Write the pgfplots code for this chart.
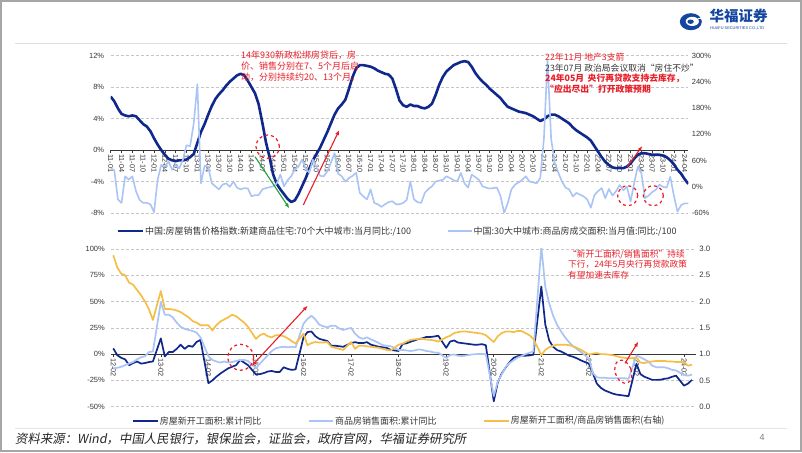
\documentclass[border=0pt]{standalone}
\usepackage{pgfplots}
\pgfplotsset{compat=1.18}
\usepackage{pgfplotstable}
\usepackage{fontspec}
\setmainfont{Liberation Sans}
\newfontfamily\cjk{Noto Sans CJK SC}
\newfontfamily\cjksl[FakeSlant=0.18]{Noto Sans CJK SC}
\usetikzlibrary{arrows.meta}
\definecolor{dk}{RGB}{16,40,140}
\definecolor{lt}{RGB}{170,196,245}
\definecolor{og}{RGB}{245,190,70}
\definecolor{rd}{RGB}{232,30,40}
\definecolor{gn}{RGB}{30,160,60}
\definecolor{tk}{RGB}{55,55,55}
\definecolor{hf}{RGB}{20,70,160}

\pgfplotstableread{
m v
0 6.8
1 6.2
2 5.3
3 4.6
4 4.4
5 4.3
6 4.4
7 4.3
8 3.8
9 3.3
10 3.0
11 2.4
12 1.5
13 0.7
14 0.0
15 -0.6
16 -1.1
17 -1.3
18 -1.4
19 -1.3
20 -1.3
21 -1.2
22 -0.9
23 -0.5
24 0.9
25 2.3
26 3.3
27 4.5
28 5.6
29 6.5
30 7.1
31 7.6
32 8.2
33 8.7
34 9.1
35 9.5
36 9.7
37 9.5
38 8.8
39 8.0
40 7.2
41 5.8
42 3.5
43 1.0
44 -0.9
45 -3.1
46 -4.3
47 -5.0
48 -5.6
49 -6.2
50 -6.6
51 -6.4
52 -5.6
53 -4.6
54 -3.6
55 -2.4
56 -1.3
57 -0.5
58 0.3
59 1.3
60 2.3
61 3.4
62 4.5
63 5.3
64 5.8
65 6.4
66 7.8
67 9.3
68 10.4
69 10.8
70 10.8
71 10.7
72 10.6
73 10.4
74 10.1
75 9.9
76 9.7
77 9.6
78 9.1
79 7.8
80 6.3
81 5.7
82 5.5
83 5.8
84 5.6
85 5.6
86 5.4
87 5.3
88 5.5
89 5.9
90 7.0
91 8.3
92 9.3
93 10.0
94 10.4
95 10.8
96 11.0
97 11.2
98 11.3
99 11.2
100 10.6
101 9.8
102 9.2
103 8.7
104 8.3
105 7.8
106 7.4
107 7.0
108 6.6
109 6.0
110 5.5
111 5.3
112 5.1
113 4.9
114 4.8
115 4.7
116 4.5
117 4.3
118 4.0
119 3.7
120 3.9
121 4.3
122 4.5
123 4.5
124 4.3
125 4.0
126 3.7
127 3.4
128 2.9
129 2.5
130 2.2
131 1.9
132 1.6
133 1.2
134 0.5
135 -0.2
136 -0.9
137 -1.5
138 -1.9
139 -2.2
140 -2.3
141 -2.3
142 -2.3
143 -2.1
144 -1.7
145 -1.1
146 -0.6
147 -0.4
148 -0.4
149 -0.5
150 -0.6
151 -0.6
152 -0.6
153 -0.7
154 -0.9
155 -1.3
156 -1.8
157 -2.5
158 -3.0
159 -3.7
160 -4.3
}\topdark

\pgfplotstableread{
m v
0 42
1 38
2 -29
3 -37
4 24
5 16
6 24
7 -10
8 -30
9 -37
10 -37
11 -40
12 -58
13 16
14 50
15 46
16 58
17 39
18 50
19 42
20 62
21 95
22 93
23 145
24 235
25 8
26 48
27 46
28 8
29 1
30 -6
31 5
32 8
33 0
34 12
35 -2
36 -6
37 -3
38 -4
39 -22
40 -19
41 -19
42 -6
43 -3
44 -1
45 1
46 8
47 28
48 1
49 15
50 24
51 40
52 46
53 62
54 42
55 32
56 62
57 45
58 25
59 24
60 35
61 55
62 77
63 30
64 24
65 12
66 20
67 25
68 32
69 -14
70 -22
71 -29
72 -6
73 -37
74 -40
75 -46
76 -40
77 -35
78 -33
79 -40
80 -40
81 -37
82 -30
83 12
84 -29
85 -35
86 -37
87 -14
88 -5
89 1
90 12
91 14
92 16
93 24
94 20
95 15
96 12
97 32
98 8
99 -2
100 28
101 22
102 16
103 1
104 -2
105 -4
106 -3
107 -2
108 -22
109 -60
110 -37
111 -6
112 5
113 10
114 16
115 24
116 12
117 10
118 8
119 20
120 110
121 290
122 110
123 55
124 32
125 12
126 -2
127 -6
128 -22
129 -14
130 -18
131 -22
132 -29
133 -48
134 -19
135 -10
136 -3
137 -26
138 -5
139 -20
140 -10
141 4
142 -8
143 0
144 -34
145 8
146 46
147 31
148 -26
149 -20
150 -12
151 -7
152 5
153 0
154 -2
155 23
156 -20
157 -57
158 -42
159 -38
160 -38
}\toplight

\pgfplotstableread{
n d l r
0 5.5 -13.5 2.88
1 -1.0 -13.0 2.65
2 -3.5 -12.0 2.53
3 -5.0 -10.5 2.50
4 -10.5 -9.0 2.36
5 -8.5 -7.5 2.32
6 -7.0 -5.0 2.22
7 -9.0 -3.0 2.12
8 -8.5 -2.0 2.00
9 -7.5 2.0 1.85
10 -7.0 2.5 1.65
12 15.0 49.5 2.20
13 -2.2 37.5 1.86
14 2.0 37.5 1.86
15 2.0 35.0 1.85
16 5.0 30.0 1.83
17 9.0 26.0 1.80
18 5.0 24.0 1.75
19 8.0 23.0 1.70
20 7.0 22.0 1.63
21 11.5 20.5 1.60
22 13.5 16.0 1.55
24 -27.6 -2.0 1.55
25 -25.0 -5.5 1.45
26 -21.5 -7.0 1.55
27 -18.5 -8.0 1.62
28 -16.0 -7.0 1.66
29 -13.5 -8.0 1.70
30 -12.0 -7.5 1.75
31 -10.5 -6.5 1.72
32 -5.5 -5.5 1.66
33 -8.0 -5.5 1.60
34 -10.5 -6.5 1.52
36 -19.3 -13.5 1.29
37 -19.0 -9.0 1.36
38 -18.0 -5.0 1.39
39 -16.5 -1.0 1.34
40 -16.0 3.0 1.32
41 -17.0 5.5 1.36
42 -17.0 6.5 1.36
43 -12.5 7.0 1.34
44 -14.0 6.5 1.30
45 -15.0 7.0 1.25
46 -14.5 6.5 1.20
48 16.0 29.0 1.39
49 21.0 33.5 1.17
50 21.5 36.5 1.21
51 17.0 33.0 1.23
52 14.5 28.0 1.22
53 13.5 26.5 1.22
54 12.5 25.5 1.23
55 8.0 27.0 1.14
56 8.0 27.0 1.12
57 7.5 24.5 1.10
58 7.0 23.0 1.08
60 10.5 25.0 1.23
61 11.4 19.5 1.10
62 10.5 16.0 1.16
63 10.5 14.5 1.16
64 11.4 16.0 1.15
65 9.0 14.0 1.14
66 8.0 12.5 1.13
67 7.0 10.5 1.12
68 6.5 8.5 1.10
69 6.0 8.0 1.08
70 4.0 7.5 1.07
72 3.0 4.0 1.18
73 9.7 4.0 1.20
74 10.3 3.5 1.24
75 11.8 3.0 1.27
76 13.0 3.5 1.28
77 14.4 4.5 1.29
78 15.0 4.0 1.29
79 16.4 3.0 1.28
80 16.3 2.5 1.27
81 16.8 1.5 1.26
82 17.5 1.3 1.24
84 6.0 -3.6 1.32
85 12.0 -0.9 1.35
86 13.0 -0.3 1.40
87 11.0 -1.6 1.42
88 10.5 -1.8 1.43
89 10.0 -1.3 1.43
90 9.5 -0.6 1.42
91 9.0 -0.1 1.41
92 9.0 0.1 1.40
93 9.5 0.2 1.39
94 8.5 -0.1 1.36
96 -44.9 -39.9 1.23
97 -27.0 -26.3 1.34
98 -18.4 -19.3 1.40
99 -12.8 -12.3 1.43
100 -7.6 -8.4 1.43
101 -3.6 -5.8 1.42
102 -2.0 -3.3 1.44
103 -1.4 -1.8 1.44
104 -1.5 0.0 1.40
105 -1.2 1.3 1.36
106 -0.5 2.6 1.29
108 64.3 102.0 0.98
109 28.2 64.0 1.08
110 12.8 48.1 1.13
111 6.9 36.3 1.16
112 3.8 27.7 1.18
113 2.5 21.5 1.18
114 0.5 15.9 1.18
115 -1.5 11.3 1.17
116 -2.5 7.5 1.15
117 -4.0 4.8 1.12
118 -6.0 1.9 1.08
120 -9.0 -4.0 0.99
121 -18.0 -18.0 1.01
122 -28.0 -22.0 1.02
123 -32.0 -22.5 1.00
124 -34.5 -22.5 1.00
125 -36.0 -23.0 0.99
126 -37.5 -23.0 0.98
127 -38.5 -23.0 0.96
128 -39.0 -23.0 0.94
129 -39.5 -23.0 0.93
130 -40.0 -23.5 0.92
132 -9.2 -1.2 0.93
133 -19.0 -3.0 0.84
134 -21.5 -5.0 0.83
135 -23.0 -7.0 0.85
136 -24.5 -11.0 0.86
137 -24.5 -12.4 0.87
138 -24.4 -12.4 0.87
139 -23.5 -12.4 0.87
140 -23.0 -13.5 0.86
141 -21.5 -15.0 0.86
142 -20.5 -15.5 0.85
144 -30.0 -20.0 0.85
145 -28.0 -20.5 0.78
146 -24.5 -19.5 0.80
}\bottom

\pgfplotsset{
  slide/.style={
    scale only axis, anchor=south west, clip=true,
    tick label style={font=\fontsize{7.5}{8}\selectfont, text=tk},
    ytick style={draw=none},
    hide obscured x ticks=false, hide obscured y ticks=false,
  },
  gridy/.style={ymajorgrids, grid style={densely dashed, gray!45, line width=0.5pt}},
  xmid/.style={
    axis x line*=middle, axis y line*=left,
    y axis line style={draw=none},
    x axis line style={tk, line width=0.8pt},
    xtick style={tk, line width=0.6pt},
    major tick length=3pt, tick align=outside,
    xticklabel style={rotate=-90, anchor=west, inner sep=1pt, font=\fontsize{7.3}{8}\selectfont},
  },
  rax/.style={
    axis y line*=right, axis x line=none,
    y axis line style={draw=none},
  },
}

\begin{document}
\begin{tikzpicture}[x=1pt,y=1pt]
\fill[white] (0,0) rectangle (802,452);

% header
\draw[gray!25, line width=0.8pt] (15,409) -- (787,409);
\fill[hf] (690.8,430.3) ellipse (11 and 8.5);
\fill[white] (692.3,430.6) ellipse (6.6 and 4.6);
\fill[hf] (690.6,430.3) ellipse (3.2 and 2.2);
\fill[white] (697.5,432.6) rectangle (702.5,434.2);
\node[anchor=west, inner sep=0, text=hf, font=\cjk\bfseries\fontsize{14.5}{15}\selectfont] at (709.5,436) {华福证券};
\node[anchor=west, inner sep=0, text=hf, font=\fontsize{3.9}{4}\selectfont] at (710,424) {HUAFU SECURITIES CO.,LTD};

% ---------------- top chart ----------------
\begin{axis}[slide, gridy, xmid,
  at={(110.7pt,239pt)}, width=577.6pt, height=157.3pt,
  xmin=0, xmax=160, ymin=-8, ymax=12,
  ytick={-8,-4,0,4,8,12}, yticklabels={-8\%,-4\%,0\%,4\%,8\%,12\%},
  xtick={0,3,...,159},
  xticklabels={11-01,11-04,11-07,11-10,12-01,12-04,12-07,12-10,13-01,13-04,13-07,13-10,14-01,14-04,14-07,14-10,15-01,15-04,15-07,15-10,16-01,16-04,16-07,16-10,17-01,17-04,17-07,17-10,18-01,18-04,18-07,18-10,19-01,19-04,19-07,19-10,20-01,20-04,20-07,20-10,21-01,21-04,21-07,21-10,22-01,22-04,22-07,22-10,23-01,23-04,23-07,23-10,24-01,24-04},
]
\addplot[dk, line width=2.6pt, line join=round] table[x=m,y=v] {\topdark};
\end{axis}
\begin{axis}[slide, rax,
  at={(110.7pt,239pt)}, width=577.6pt, height=157.3pt,
  xmin=0, xmax=160, ymin=-60, ymax=300,
  ytick={-60,0,60,120,180,240,300}, yticklabels={-60\%,0\%,60\%,120\%,180\%,240\%,300\%},
]
\addplot[lt, line width=1.6pt, line join=round] table[x=m,y=v] {\toplight};
\end{axis}

% top legend
\draw[dk, line width=2.6pt] (117.6,221) -- (142.5,221);
\node[anchor=west, inner sep=0, font=\cjk\fontsize{9}{10}\selectfont, text=tk] at (145,221) {中国:房屋销售价格指数:新建商品住宅:70个大中城市:当月同比:/100};
\draw[lt, line width=2.2pt] (447.7,221) -- (471.5,221);
\node[anchor=west, inner sep=0, font=\cjk\fontsize{9}{10}\selectfont, text=tk] at (473.4,221) {中国:30大中城市:商品房成交面积:当月值:同比:/100};

% top annotations
\node[anchor=north west, align=left, inner sep=0, text=rd, font=\cjk\fontsize{9}{11.3}\selectfont] at (241,401.5)
  {14年930新政松绑房贷后，房\\价、销售分别在7、5个月后启\\动，分别持续约20、13个月。};
\node[anchor=north west, align=left, inner sep=0, font=\cjk\fontsize{8.8}{10.9}\selectfont] at (545,399.5)
  {\textcolor{rd}{22年11月 地产3支箭}\\\textcolor{tk}{23年07月 政治局会议取消“房住不炒”}\\\textcolor{rd}{\bfseries 24年05月\, 央行再贷款支持去库存，}\\\textcolor{rd}{\bfseries “应出尽出”打开政策预期}};
\draw[rd, dashed, line width=1.2pt] (267.7,305.3) circle (11.7);
\draw[rd, dashed, line width=1.2pt] (627.7,256.3) circle (10);
\draw[rd, dashed, line width=1.2pt] (653.3,256.3) circle (10);
\draw[gn, line width=1.1pt, -{Latex[length=5pt,width=4pt]}] (255,295.3) -- (289.3,243.7);
\draw[rd, line width=1.1pt, -{Latex[length=5pt,width=4pt]}] (303.3,247) -- (339.3,322);
\draw[rd, line width=1.1pt, -{Latex[length=5pt,width=4pt]}] (627.3,285.3) -- (642.3,306);

% ---------------- bottom chart ----------------
\begin{axis}[slide, gridy, xmid,
  at={(111.3pt,45.3pt)}, width=584.6pt, height=157.7pt,
  xmin=-0.5, xmax=147, ymin=-50, ymax=100,
  ytick={-50,-25,0,25,50,75,100}, yticklabels={-50\%,-25\%,0\%,25\%,50\%,75\%,100\%},
  xtick={0,12,...,144},
  xticklabels={12-02,13-02,14-02,15-02,16-02,17-02,18-02,19-02,20-02,21-02,22-02,23-02,24-02},
]
\addplot[dk, line width=1.7pt, line join=round] table[x=n,y=d] {\bottom};
\addplot[lt, line width=1.7pt, line join=round] table[x=n,y=l] {\bottom};
\end{axis}
\begin{axis}[slide, rax,
  at={(111.3pt,45.3pt)}, width=584.6pt, height=157.7pt,
  xmin=-0.5, xmax=147, ymin=0, ymax=3,
  ytick={0,0.5,1,1.5,2,2.5,3}, yticklabels={0.0,0.5,1.0,1.5,2.0,2.5,3.0},
  tick label style={font=\fontsize{7.8}{8}\selectfont},
]
\addplot[og, line width=1.7pt, line join=round] table[x=n,y=r] {\bottom};
\end{axis}

% bottom legend
\draw[dk, line width=2.2pt] (133,31) -- (157.6,31);
\node[anchor=west, inner sep=0, font=\cjk\fontsize{9}{10}\selectfont, text=tk] at (159.6,31) {房屋新开工面积:累计同比};
\draw[lt, line width=2.2pt] (308.6,31) -- (333,31);
\node[anchor=west, inner sep=0, font=\cjk\fontsize{9}{10}\selectfont, text=tk] at (335,31) {商品房销售面积:累计同比};
\draw[og, line width=2.2pt] (484,31) -- (508.6,31);
\node[anchor=west, inner sep=0, font=\cjk\fontsize{9}{10}\selectfont, text=tk] at (510.6,31) {房屋新开工面积/商品房销售面积(右轴)};

% bottom annotations
\node[anchor=north west, align=left, inner sep=0, text=rd, font=\cjk\fontsize{8.7}{10.5}\selectfont] at (568,202.5)
  {“新开工面积/销售面积”持续\\下行，24年5月央行再贷款政策\\有望加速去库存};
\draw[rd, dashed, line width=1.2pt] (240.7,94.7) circle (13);
\draw[rd, dashed, line width=1.2pt, rotate around={20:(623.3,80.3)}] (623.3,80.3) ellipse (8 and 12);
\draw[rd, line width=1.1pt, {Latex[length=5pt,width=4pt]}-{Latex[length=5pt,width=4pt]}] (251.7,86) -- (307.7,146.3);
\draw[rd, line width=1.1pt, -{Latex[length=5pt,width=4pt]}] (625,88.7) -- (638.3,110.3);

% footer
\draw[gray!20, line width=0.6pt] (15,24) -- (787,24);
\node[anchor=west, inner sep=0, text=black!85, font=\cjksl\fontsize{12.4}{14}\selectfont] at (15,13.5) {资料来源：Wind，中国人民银行，银保监会，证监会，政府官网，华福证券研究所};
\node[inner sep=0, text=gray, font=\fontsize{9}{10}\selectfont] at (762,15) {4};

% frame
\draw[gray!70, line width=1.6pt] (0.8,0.8) rectangle (801.2,451.2);
\pgfresetboundingbox
\path[use as bounding box] (0,0) rectangle (802,452);
\end{tikzpicture}
\end{document}
